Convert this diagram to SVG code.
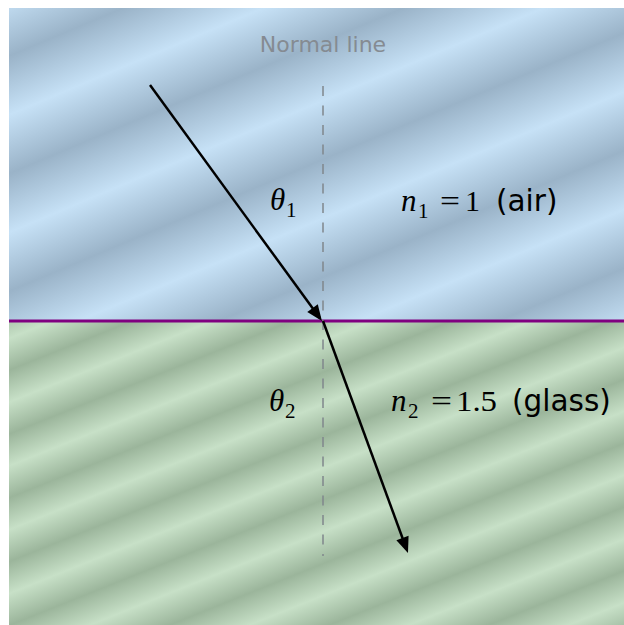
<svg xmlns="http://www.w3.org/2000/svg" width="624" height="625" viewBox="0 0 624 625">
<defs>
<linearGradient id="airGrad" gradientUnits="userSpaceOnUse" x1="0" y1="1" x2="42" y2="101" spreadMethod="repeat">
<stop offset="0" stop-color="#c6e1f6"/>
<stop offset="0.5" stop-color="#9ab3c8"/>
<stop offset="1" stop-color="#c6e1f6"/>
</linearGradient>
<linearGradient id="glassGrad" gradientUnits="userSpaceOnUse" x1="0" y1="342" x2="22" y2="397" spreadMethod="repeat">
<stop offset="0" stop-color="#c7e0c7"/>
<stop offset="0.5" stop-color="#9bb59b"/>
<stop offset="1" stop-color="#c7e0c7"/>
</linearGradient>
<marker id="arrow" markerUnits="userSpaceOnUse" markerWidth="18" markerHeight="14" refX="12" refY="6.5" orient="auto" overflow="visible">
<path d="M0,0 L16,6.5 L0,13 Z" fill="#000"/>
</marker>
<style>
.ray{stroke:#000;stroke-width:2.5;fill:none;marker-end:url(#arrow)}
.normal{stroke:#80868c;stroke-width:1.5;stroke-dasharray:10 9.5}
.sans{font-family:"DejaVu Sans",sans-serif;font-size:29.5px}
.math{font-family:"Liberation Serif","DejaVu Serif",serif;font-style:italic;font-size:31px}
.rm{font-family:"Liberation Serif","DejaVu Serif",serif;font-size:30px}
.sub{font-family:"Liberation Serif","DejaVu Serif",serif;font-size:21px}
</style>
</defs>
<g id="air">
<rect x="9" y="8" width="615" height="313" fill="url(#airGrad)"/>
</g>
<g id="glass">
<rect x="9" y="321" width="615" height="304" fill="url(#glassGrad)"/>
</g>
<g id="interface">
<line x1="9" y1="321" x2="624" y2="321" stroke="#800080" stroke-width="3.2"/>
</g>
<g id="normal-line">
<line class="normal" x1="323" y1="86" x2="323" y2="556"/>
<text class="sans" x="323" y="52" style="font-size:22px" fill="#858b92" text-anchor="middle">Normal line</text>
</g>
<g id="connectors">
<path class="ray" d="M150,85 L319.6,317.8"/>
<path class="ray" d="M323,321 L406.6,549.2"/>
</g>
<g id="theta1">
<text><tspan class="math" x="270" y="210">θ</tspan><tspan class="sub" x="286" y="217">1</tspan></text>
</g>
<g id="n1">
<text><tspan class="math" x="401" y="211">n</tspan><tspan class="sub" x="418" y="218">1</tspan><tspan class="rm" x="440" y="211" textLength="20" lengthAdjust="spacingAndGlyphs">=</tspan><tspan class="rm" x="465" y="211">1</tspan><tspan class="sans" x="496" y="211">(air)</tspan></text>
</g>
<g id="theta2">
<text><tspan class="math" x="269" y="411">θ</tspan><tspan class="sub" x="285" y="418">2</tspan></text>
</g>
<g id="n2">
<text><tspan class="math" x="391" y="411">n</tspan><tspan class="sub" x="408" y="418">2</tspan><tspan class="rm" x="431" y="411" textLength="21" lengthAdjust="spacingAndGlyphs">=</tspan><tspan class="rm" x="456" y="411" textLength="41" lengthAdjust="spacingAndGlyphs">1.5</tspan><tspan class="sans" x="512" y="411">(glass)</tspan></text>
</g>
</svg>
